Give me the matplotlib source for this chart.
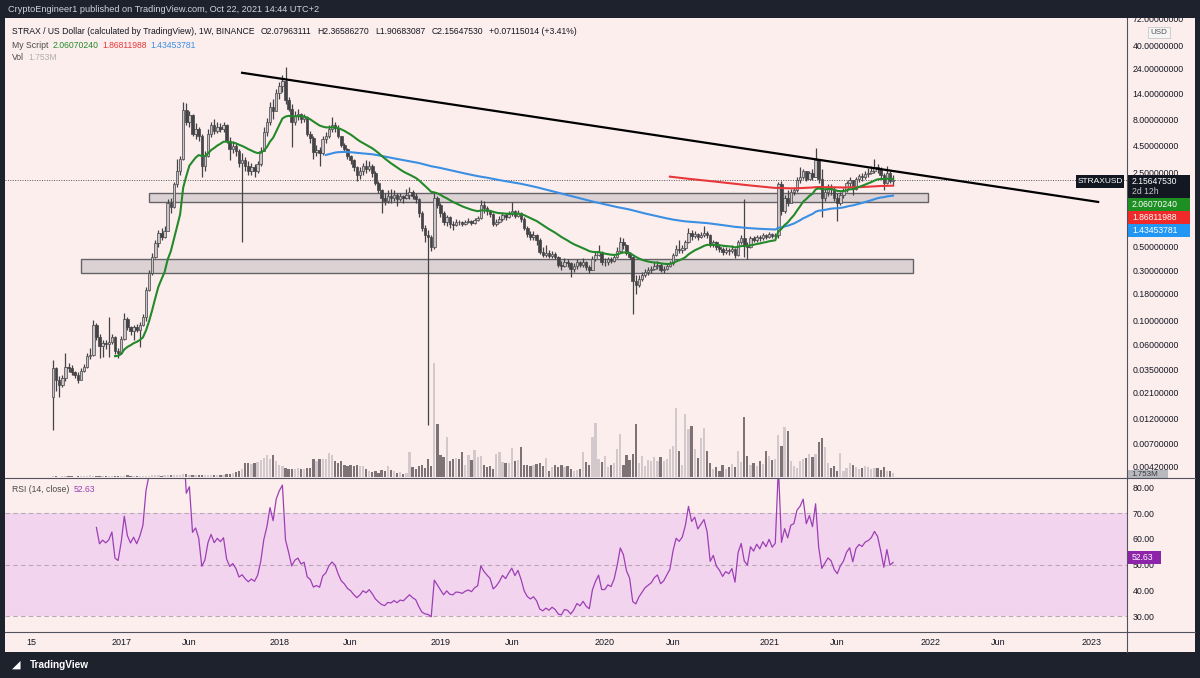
import matplotlib
matplotlib.use('Agg')
import matplotlib.pyplot as plt
import matplotlib.dates as mdates
from matplotlib.patches import Rectangle
from matplotlib.ticker import NullLocator, NullFormatter
import numpy as np
import pandas as pd

plt.rcParams['font.family'] = ['Liberation Sans', 'DejaVu Sans']

# weekly STRAX/USD candles, first bar 2016-08-01
start = '2016-08-01'
first_open = 0.019
close = [
    0.036, 0.028, 0.025, 0.029, 0.037, 0.036, 0.033, 0.031, 0.028, 0.034,
    0.037, 0.047, 0.048, 0.092, 0.070, 0.058, 0.062, 0.060, 0.063, 0.071,
    0.052, 0.050, 0.068, 0.104, 0.087, 0.080, 0.088, 0.082, 0.092, 0.108,
    0.196, 0.28, 0.40, 0.54, 0.67, 0.62, 0.70, 1.30, 1.18, 1.95,
    2.6, 3.4, 9.8, 7.5, 8.8, 5.8, 6.4, 5.6, 2.9, 3.6,
    5.8, 7.0, 6.2, 6.8, 6.5, 7.0, 5.0, 4.2, 4.5, 4.0,
    3.1, 3.3, 2.9, 2.6, 2.8, 2.6, 3.0, 4.0, 6.0, 7.5,
    10.5, 9.5, 14.0, 16.5, 18.5, 12.0, 10.0, 7.5, 8.6, 9.0,
    8.0, 8.3, 5.8, 5.3, 3.9, 4.1, 3.8, 5.2, 5.6, 6.5,
    7.0, 6.6, 5.5, 4.6, 4.2, 3.6, 3.3, 2.8, 2.4, 2.6,
    2.9, 2.7, 2.9, 2.5, 2.0, 1.7, 1.45, 1.35, 1.5, 1.45,
    1.55, 1.4, 1.5, 1.45, 1.55, 1.65, 1.5, 1.4, 1.05, 0.75,
    0.65, 0.62, 0.50, 1.45, 1.25, 1.05, 0.85, 0.95, 0.82, 0.80,
    0.86, 0.85, 0.82, 0.86, 0.88, 0.84, 0.90, 0.93, 1.25, 1.15,
    1.08, 1.02, 0.82, 0.86, 0.92, 1.00, 0.95, 1.02, 1.08, 0.98,
    1.04, 0.92, 0.75, 0.66, 0.62, 0.64, 0.58, 0.45, 0.42, 0.44,
    0.41, 0.43, 0.40, 0.34, 0.33, 0.36, 0.35, 0.31, 0.33, 0.36,
    0.34, 0.36, 0.32, 0.30, 0.38, 0.42, 0.45, 0.36, 0.36, 0.38,
    0.37, 0.40, 0.46, 0.55, 0.52, 0.44, 0.40, 0.24, 0.22, 0.25,
    0.27, 0.29, 0.30, 0.31, 0.33, 0.34, 0.30, 0.31, 0.33, 0.35,
    0.42, 0.48, 0.47, 0.49, 0.55, 0.68, 0.63, 0.66, 0.62, 0.65,
    0.68, 0.64, 0.52, 0.55, 0.50, 0.48, 0.45, 0.47, 0.46, 0.48,
    0.42, 0.55, 0.60, 0.52, 0.50, 0.60, 0.58, 0.62, 0.60, 0.64,
    0.62, 0.66, 0.63, 0.65, 1.95, 1.10, 1.45, 1.30, 1.65, 1.70,
    2.15, 2.30, 2.60, 2.20, 2.50, 2.30, 3.30, 2.20, 1.45, 1.65,
    1.85, 1.75, 1.45, 1.30, 1.55, 1.70, 2.00, 2.15, 1.75, 2.20,
    2.35, 2.30, 2.45, 2.50, 2.60, 2.80, 2.70, 2.40, 2.00, 2.50,
    2.0796, 2.1565,
]
high = [
    0.043, 0.037, 0.030, 0.031, 0.050, 0.040, 0.038, 0.034, 0.033, 0.036,
    0.039, 0.050, 0.056, 0.102, 0.095, 0.075, 0.066, 0.066, 0.110, 0.075,
    0.072, 0.055, 0.072, 0.120, 0.108, 0.090, 0.092, 0.094, 0.098, 0.115,
    0.210, 0.30, 0.44, 0.58, 0.72, 0.75, 0.78, 1.40, 1.45, 2.05,
    3.4, 3.6, 11.5, 11.3, 9.5, 9.0, 7.4, 6.8, 5.8, 4.0,
    6.5, 7.6, 8.0, 7.5, 7.4, 7.6, 7.2, 5.4, 5.0, 4.8,
    4.2, 3.8, 3.5, 3.2, 3.1, 3.0, 3.2, 4.4, 6.8, 8.2,
    11.5, 12.5, 15.5, 18.0, 21.0, 24.8, 13.0, 11.0, 9.5, 10.0,
    9.2, 9.0, 8.5, 6.2, 5.5, 4.6, 4.4, 5.5, 6.0, 7.0,
    8.4, 7.5, 7.0, 5.6, 4.8, 4.3, 3.7, 3.4, 2.9, 2.8,
    3.1, 3.3, 3.2, 3.0, 2.6, 2.1, 1.75, 1.6, 1.7, 1.75,
    1.7, 1.6, 1.6, 1.55, 1.75, 1.85, 1.7, 1.6, 1.45, 1.1,
    0.8, 0.72, 0.65, 1.65, 1.5, 1.3, 1.1, 1.0, 0.98, 0.88,
    0.92, 0.90, 0.88, 0.90, 0.93, 0.90, 0.94, 0.97, 1.38, 1.35,
    1.2, 1.12, 1.05, 0.92, 0.98, 1.05, 1.05, 1.08, 1.32, 1.12,
    1.12, 1.06, 0.95, 0.78, 0.70, 0.70, 0.66, 0.60, 0.50, 0.52,
    0.47, 0.46, 0.45, 0.41, 0.37, 0.39, 0.38, 0.36, 0.35, 0.38,
    0.37, 0.39, 0.37, 0.34, 0.41, 0.45, 0.52, 0.46, 0.39, 0.40,
    0.40, 0.42, 0.50, 0.62, 0.60, 0.53, 0.45, 0.41, 0.27, 0.27,
    0.29, 0.31, 0.32, 0.33, 0.36, 0.37, 0.35, 0.33, 0.35, 0.37,
    0.44, 0.52, 0.58, 0.52, 0.58, 0.75, 0.72, 0.70, 0.68, 0.69,
    0.78, 0.70, 0.66, 0.58, 0.57, 0.52, 0.50, 0.50, 0.49, 0.52,
    0.49, 0.58, 0.64, 1.40, 0.56, 0.63, 0.63, 0.65, 0.64, 0.67,
    0.66, 0.69, 0.68, 0.68, 2.05, 2.10, 1.55, 1.70, 1.75, 1.85,
    2.30, 2.80, 2.70, 2.50, 2.60, 2.70, 4.30, 3.00, 2.70, 1.80,
    1.95, 1.95, 1.85, 1.60, 1.65, 1.80, 2.10, 2.30, 2.00, 2.30,
    2.45, 2.50, 2.60, 2.75, 2.90, 3.40, 3.00, 2.80, 2.50, 2.90,
    2.60, 2.3659,
]
low = [
    0.0093, 0.022, 0.019, 0.024, 0.027, 0.033, 0.031, 0.029, 0.026, 0.028,
    0.033, 0.036, 0.044, 0.047, 0.066, 0.045, 0.046, 0.054, 0.046, 0.060,
    0.049, 0.045, 0.049, 0.066, 0.082, 0.074, 0.066, 0.078, 0.057, 0.090,
    0.100, 0.19, 0.27, 0.39, 0.50, 0.58, 0.60, 0.70, 1.05, 1.15,
    1.85, 2.4, 3.3, 7.0, 6.8, 5.5, 5.2, 5.0, 2.3, 2.6,
    3.5, 5.4, 5.8, 5.9, 6.0, 6.1, 4.8, 3.3, 3.8, 3.6,
    2.8, 0.55, 2.6, 2.4, 2.4, 2.3, 2.5, 2.9, 4.0, 5.5,
    7.0, 8.0, 9.5, 12.5, 14.5, 11.0, 9.5, 4.4, 7.0, 7.8,
    7.4, 7.5, 5.5, 4.8, 3.4, 3.6, 2.9, 3.7, 4.8, 5.3,
    6.0, 6.0, 5.3, 4.4, 3.9, 3.4, 3.0, 2.6, 2.1, 2.2,
    2.4, 2.5, 2.6, 2.3, 1.9, 1.6, 1.05, 1.25, 1.3, 1.3,
    1.35, 1.2, 1.35, 1.3, 1.4, 1.4, 1.4, 1.3, 0.95, 0.7,
    0.55, 0.0104, 0.46, 0.48, 1.15, 0.95, 0.8, 0.78, 0.75, 0.72,
    0.78, 0.80, 0.79, 0.80, 0.84, 0.81, 0.82, 0.88, 0.92, 1.05,
    1.0, 0.95, 0.78, 0.78, 0.84, 0.88, 0.90, 0.93, 0.98, 0.93,
    0.95, 0.86, 0.72, 0.62, 0.58, 0.58, 0.52, 0.43, 0.40, 0.40,
    0.39, 0.39, 0.38, 0.32, 0.30, 0.32, 0.32, 0.26, 0.29, 0.31,
    0.32, 0.32, 0.30, 0.28, 0.30, 0.37, 0.41, 0.34, 0.33, 0.34,
    0.35, 0.36, 0.39, 0.45, 0.48, 0.42, 0.38, 0.115, 0.18, 0.21,
    0.24, 0.26, 0.27, 0.28, 0.30, 0.31, 0.29, 0.28, 0.30, 0.32,
    0.34, 0.41, 0.44, 0.44, 0.47, 0.54, 0.58, 0.60, 0.58, 0.60,
    0.62, 0.60, 0.50, 0.50, 0.47, 0.45, 0.42, 0.43, 0.42, 0.44,
    0.39, 0.41, 0.53, 0.40, 0.38, 0.49, 0.55, 0.56, 0.57, 0.58,
    0.59, 0.60, 0.60, 0.61, 0.60, 1.00, 1.05, 1.20, 1.30, 1.55,
    1.65, 2.00, 2.20, 2.10, 2.20, 2.15, 2.40, 2.00, 0.95, 1.35,
    1.50, 1.55, 1.35, 0.88, 1.25, 1.45, 1.65, 1.85, 1.55, 1.70,
    2.05, 2.10, 2.20, 2.30, 2.45, 2.50, 2.50, 2.20, 1.70, 1.95,
    2.00, 1.9068,
]
volume = [  # millions
    0.4, 0.4, 0.2, 0.4, 0.6, 0.4, 0.4, 0.2, 0.4, 0.4,
    0.4, 0.6, 0.8, 0.4, 0.4, 0.4, 0.4, 0.4, 0.6, 0.4,
    0.4, 0.4, 0.4, 0.6, 0.8, 0.4, 0.4, 0.4, 0.4, 0.4,
    0.6, 0.6, 0.8, 0.8, 0.8, 0.6, 0.8, 0.8, 0.8, 1.0,
    1.0, 1.0, 1.2, 1.2, 1.0, 1.0, 0.8, 0.8, 1.0, 0.8,
    0.8, 0.8, 1.0, 0.8, 0.8, 1.0, 1.2, 1.4, 1.6, 2.0,
    2.4, 3.3, 5.7, 5.7, 5.3, 5.7, 6.1, 6.9, 7.8, 9.0,
    7.3, 9.0, 6.5, 4.9, 4.5, 3.7, 3.3, 3.3, 3.3, 3.7,
    3.3, 3.3, 3.7, 3.7, 7.3, 6.5, 7.3, 7.3, 7.3, 9.8,
    9.0, 6.5, 5.7, 6.5, 4.9, 4.5, 4.9, 4.5, 4.9, 4.5,
    4.5, 3.3, 2.4, 2.0, 2.4, 1.6, 2.9, 2.4, 4.5, 2.9,
    2.4, 1.6, 2.0, 1.2, 1.6, 10.2, 4.1, 3.3, 4.5, 4.9,
    3.7, 7.3, 4.5, 46.5, 21.6, 9.0, 8.2, 16.3, 6.5, 7.3,
    7.8, 7.3, 10.2, 4.9, 9.0, 6.9, 11.0, 8.2, 8.6, 4.9,
    4.1, 4.5, 3.3, 9.4, 10.2, 6.1, 5.7, 5.7, 11.8, 6.5,
    6.9, 12.2, 4.9, 4.9, 4.5, 4.9, 5.3, 5.7, 4.5, 7.8,
    2.4, 4.1, 4.9, 4.1, 4.9, 4.1, 4.5, 3.3, 2.4, 2.9,
    3.3, 10.2, 6.1, 4.9, 16.3, 22.0, 7.3, 6.1, 8.6, 4.1,
    4.9, 5.7, 11.4, 17.5, 4.9, 9.0, 6.9, 9.4, 21.6, 5.7,
    8.6, 4.5, 6.9, 6.5, 8.2, 6.5, 8.2, 6.5, 7.3, 11.4,
    12.6, 28.2, 10.6, 4.9, 25.7, 19.6, 20.8, 11.4, 7.8, 15.9,
    20.0, 10.6, 5.7, 3.3, 4.1, 2.4, 4.9, 3.3, 4.1, 5.3,
    4.1, 10.6, 6.1, 24.5, 8.6, 4.9, 5.7, 4.5, 6.5, 5.3,
    10.6, 8.6, 6.9, 7.3, 17.1, 12.6, 20.4, 18.8, 6.5, 4.5,
    3.7, 6.5, 7.3, 7.8, 9.4, 8.2, 9.4, 14.3, 15.9, 12.2,
    5.7, 3.7, 4.5, 2.4, 9.8, 2.4, 3.7, 5.7, 4.9, 4.1,
    3.3, 3.7, 4.5, 4.1, 3.3, 3.7, 3.7, 2.9, 4.1, 2.4,
    2.4, 1.753,
]

# drawings on the chart
trend_dates = ['2017-10-02', '2023-01-17']
trend_prices = [21.9, 1.325]
boxes = [  # start, end, low, high
    ('2017-03-06', '2021-12-29', 1.32, 1.625),
    ('2016-10-03', '2021-11-25', 0.286, 0.381),
]
tick_dates = ['2016-06-13', '2017-01-02', '2017-06-05', '2017-12-25', '2018-06-04',
              '2018-12-24', '2019-06-03', '2019-12-30', '2020-06-01', '2021-01-04',
              '2021-06-07', '2022-01-03', '2022-06-06', '2023-01-02']
tick_labels = ['15', '2017', 'Jun', '2018', 'Jun', '2019', 'Jun', '2020', 'Jun',
               '2021', 'Jun', '2022', 'Jun', '2023']
price_ticks = [72, 40, 24, 14, 8, 4.5, 2.5, 0.5, 0.3, 0.18, 0.1, 0.06,
               0.035, 0.021, 0.012, 0.007, 0.0042]
rsi_ticks = [80, 70, 60, 50, 40, 30]

DARK = '#1e222d'
BG = '#fdeeee'
INK = '#131722'
SEP = '#50535e'
UP_BODY = '#cbc3c5'
DN_BODY = '#444447'
WICK = '#444447'
VOL_UP = '#d3c8cb'
VOL_DN = '#7d7376'
GREEN = '#23892a'
RED = '#e8373b'
BLUE = '#3a8fe3'
PURPLE = '#9c3fb4'
BAND = '#f3d4ef'

close = np.array(close)
high = np.array(high)
low = np.array(low)
volume = np.array(volume)
opens = np.r_[first_open, close[:-1]]
hi = np.maximum(high, np.maximum(opens, close))
lo = np.minimum(low, np.minimum(opens, close))
up = close >= opens

dates = pd.date_range(start, periods=len(close), freq='7D')
xd = mdates.date2num(dates)


def ema_tv(src, n):
    out = np.full(len(src), np.nan)
    out[n - 1] = src[:n].mean()
    a = 2 / (n + 1)
    for k in range(n, len(src)):
        out[k] = a * src[k] + (1 - a) * out[k - 1]
    return out


def rsi_tv(src, n=14):
    d = np.diff(src)
    gain = np.clip(d, 0, None)
    loss = np.clip(-d, 0, None)
    out = np.full(len(src), np.nan)
    ag, al = gain[:n].mean(), loss[:n].mean()
    out[n] = 100 - 100 / (1 + ag / al)
    for k in range(n, len(d)):
        ag = (ag * (n - 1) + gain[k]) / n
        al = (al * (n - 1) + loss[k]) / n
        out[k + 1] = 100 - 100 / (1 + ag / al)
    return out


ema21 = ema_tv(close, 21)
ema89 = ema_tv(close, 89)
ema200 = ema_tv(close, 200)
rsi = rsi_tv(close)

W, H = 1200, 678


def rect(x0, y0, x1, y1):
    return [x0 / W, 1 - y1 / H, (x1 - x0) / W, (y1 - y0) / H]


fig = plt.figure(figsize=(12, 6.78), dpi=100, facecolor=DARK)
fig.patches.append(Rectangle((5 / W, 1 - 652 / H), 1190 / W, (652 - 18) / H,
                             transform=fig.transFigure, facecolor=BG,
                             edgecolor='none', zorder=-1))

ax_vol = fig.add_axes(rect(5, 18, 1127, 477), zorder=1)
ax = fig.add_axes(rect(5, 18, 1127, 477), zorder=2, sharex=ax_vol)
ax_rsi = fig.add_axes(rect(5, 478, 1127, 631), zorder=2, sharex=ax_vol)
for a in (ax_vol, ax, ax_rsi):
    a.set_facecolor('none')
    for s in a.spines.values():
        s.set_visible(False)

x_left = mdates.date2num(pd.Timestamp(start)) - 108.4
x_right = mdates.date2num(pd.Timestamp(start)) + 2425.2
ax.set_xlim(x_left, x_right)

# volume
ax_vol.bar(xd, volume, width=5.0, color=np.where(up, VOL_UP, VOL_DN), linewidth=0)
ax_vol.set_ylim(0, 187.6)
ax_vol.set_yticks([])
ax_vol.tick_params(axis='x', length=0, labelbottom=False)

# price
ax.set_yscale('log')
ax.set_ylim(0.003369, 72)
for d0, d1, p0, p1 in boxes:
    x0 = mdates.date2num(pd.Timestamp(d0))
    x1 = mdates.date2num(pd.Timestamp(d1))
    ax.add_patch(Rectangle((x0, p0), x1 - x0, p1 - p0, facecolor='#d9cfd2',
                           edgecolor='#55555a', linewidth=1.0, alpha=0.9, zorder=1))
ax.axhline(close[-1], color='#555555', lw=0.7, ls=(0, (1, 1.5)), zorder=1)
ax.vlines(xd, lo, hi, color=WICK, lw=0.9, zorder=2)
bot = np.minimum(opens, close)
top = np.maximum(opens, close)
ax.bar(xd[up], (top - bot)[up], bottom=bot[up], width=5.5, color=UP_BODY,
       edgecolor=WICK, linewidth=0.5, zorder=3)
ax.bar(xd[~up], (top - bot)[~up], bottom=bot[~up], width=5.5, color=DN_BODY,
       edgecolor=DN_BODY, linewidth=0.5, zorder=3)
ax.plot(xd, ema89, color=BLUE, lw=1.5, zorder=4)
ax.plot(xd, ema200, color=RED, lw=1.5, zorder=4)
ax.plot(xd, ema21, color=GREEN, lw=1.5, zorder=4)
ax.plot(mdates.date2num(pd.to_datetime(trend_dates)), trend_prices,
        color='black', lw=1.6, zorder=5)

ax.yaxis.tick_right()
ax.yaxis.set_minor_locator(NullLocator())
ax.yaxis.set_minor_formatter(NullFormatter())
ax.set_yticks(price_ticks)
ax.set_yticklabels([f'{t:.8f}' for t in price_ticks])
ax.tick_params(axis='y', length=0, pad=4, labelsize=6.3, labelcolor=INK)
ax.tick_params(axis='x', length=0, labelbottom=False)

# RSI
ax_rsi.axhspan(30, 70, color=BAND, lw=0, zorder=0)
for lvl in (70, 50, 30):
    ax_rsi.axhline(lvl, color='#b9a9b6', lw=0.8, ls=(0, (4, 3)), zorder=1)
ax_rsi.plot(xd, rsi, color=PURPLE, lw=0.9, zorder=3)
ax_rsi.set_ylim(24.2, 83.6)
ax_rsi.yaxis.tick_right()
ax_rsi.set_yticks(rsi_ticks)
ax_rsi.set_yticklabels([f'{t:.2f}' for t in rsi_ticks])
ax_rsi.tick_params(axis='y', length=0, pad=4, labelsize=6.3, labelcolor=INK)
ax_rsi.set_xticks(mdates.date2num(pd.to_datetime(tick_dates)))
ax_rsi.set_xticklabels(tick_labels)
ax_rsi.tick_params(axis='x', length=0, pad=5, labelsize=6.5, labelcolor=INK)

# overlay in pixel coordinates
ov = fig.add_axes([0, 0, 1, 1], zorder=5)
ov.set_xlim(0, W)
ov.set_ylim(H, 0)
ov.axis('off')
ov.patch.set_alpha(0)
renderer = fig.canvas.get_renderer()


def text_row(x, y, parts, fs, gap=4):
    # lay out texts one after another, as the legend rows do
    for s, col in parts:
        t = ov.text(x, y, s, color=col, fontsize=fs, va='center')
        x += t.get_window_extent(renderer=renderer).width + gap


ov.add_patch(Rectangle((0, 0), W, 18, color=DARK, lw=0))
ov.add_patch(Rectangle((0, 652), W, 26, color=DARK, lw=0))
ov.text(8, 9, 'CryptoEngineer1 published on TradingView.com, Oct 22, 2021 14:44 UTC+2',
        color='#d1d4dc', fontsize=6.6, va='center')
ov.text(30, 665, 'TradingView', color='white', fontsize=7.2, va='center',
        fontweight='bold')
ov.text(12, 665, '\u25E2', color='white', fontsize=8, va='center')

for xs, ys in (([1127, 1127], [18, 652]), ([5, 1195], [477.5, 477.5]),
               ([5, 1195], [631.5, 631.5])):
    ov.plot(xs, ys, color=SEP, lw=0.8)

# legend rows
fs = 6.2
text_row(12, 31, [('STRAX / US Dollar (calculated by TradingView), 1W, BINANCE', INK),
                  ('O2.07963111', INK), ('H2.36586270', INK), ('L1.90683087', INK),
                  ('C2.15647530', INK), ('+0.07115014 (+3.41%)', INK)], fs, gap=6)
text_row(12, 45, [('My Script', '#4a4a4a'), ('2.06070240', GREEN),
                  ('1.86811988', RED), ('1.43453781', BLUE)], fs)
text_row(12, 58, [('Vol', '#4a4a4a'), ('1.753M', '#b0b0b0')], fs)
text_row(12, 489, [('RSI (14, close)', '#4a4a4a'), ('52.63', PURPLE)], fs)

# price scale badges
ov.add_patch(Rectangle((1148, 27), 22, 11, facecolor='#f5f5f5', edgecolor='#c9c9c9', lw=0.6))
ov.text(1159, 32.5, 'USD', color='#555555', fontsize=5.8, ha='center', va='center')
ov.add_patch(Rectangle((1076, 175), 48, 13, color=INK, lw=0))
ov.text(1100, 181.5, 'STRAXUSD', color='white', fontsize=6, ha='center', va='center')
ov.add_patch(Rectangle((1128, 175), 62, 23, color=INK, lw=0))
ov.text(1132, 181.5, '2.15647530', color='white', fontsize=fs, va='center')
ov.text(1132, 192, '2d 12h', color='#c8c8c8', fontsize=fs, va='center')
for y0, col, s in ((198, '#1e8f22', '2.06070240'), (211, '#f02a2a', '1.86811988'),
                   (224, '#2196f3', '1.43453781')):
    ov.add_patch(Rectangle((1128, y0), 62, 13, color=col, lw=0))
    ov.text(1132, y0 + 6.5, s, color='white', fontsize=fs, va='center')
ov.add_patch(Rectangle((1128, 470), 40, 7.5, color='#b8b8bf', lw=0))
ov.text(1131, 474, '1.753M', color='#3a3a3a', fontsize=5.8, va='center')
ov.add_patch(Rectangle((1128, 551), 33, 13, color='#8e24aa', lw=0))
ov.text(1132, 557.5, '52.63', color='white', fontsize=fs, va='center')

fig.savefig('out.png', dpi=100, facecolor=DARK)
